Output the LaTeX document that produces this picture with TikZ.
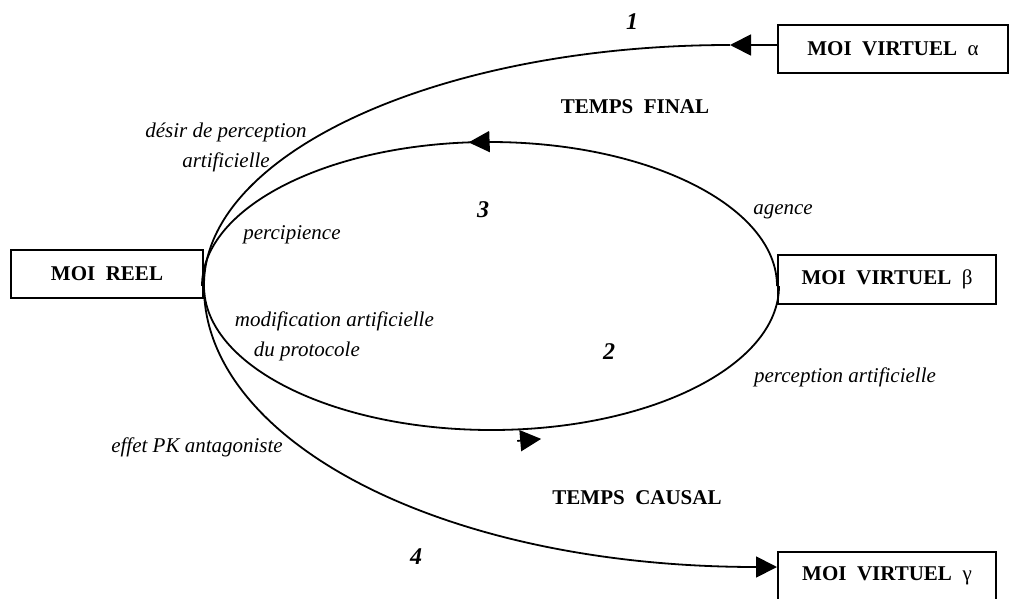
\documentclass[tikz,border=0pt]{standalone}
\usepackage{fontspec}
\setmainfont{Liberation Serif}
\usetikzlibrary{arrows.meta,decorations.markings}

\begin{document}
\begin{tikzpicture}[x=0.5pt,y=-0.5pt,line width=0.9pt,
  box/.style={rectangle,draw,line width=1pt,inner sep=0pt,font=\fontsize{10.5}{12}\selectfont\bfseries},
  lbl/.style={inner sep=0pt,font=\fontsize{10.5}{15}\selectfont\itshape},
  num/.style={inner sep=0pt,font=\fontsize{12}{14}\selectfont\bfseries\itshape},
  titre/.style={inner sep=0pt,font=\fontsize{10.5}{12}\selectfont\bfseries},
  tip/.style={-{Triangle[length=10.5pt,width=10.5pt]}},
  midtip/.style={postaction={decorate},decoration={markings,
    mark=at position #1 with {\arrow{Triangle[length=10.5pt,width=10.5pt]}}}}]
\useasboundingbox (0,0) rectangle (1011,599);

\node[box,minimum width=96pt,minimum height=24pt] (reel) at (107,274) {MOI\ \ REEL};
\node[box,minimum width=115pt,minimum height=24pt] (alpha) at (893,49) {MOI\ \ VIRTUEL\ \ {\mdseries α}};
\node[box,minimum width=109pt,minimum height=24.5pt] (beta) at (887,279.5) {MOI\ \ VIRTUEL\ \ {\mdseries β}};
\node[box,minimum width=109pt,minimum height=24pt] (gamma) at (887,576) {MOI\ \ VIRTUEL\ \ {\mdseries γ}};

\coordinate (o) at ([yshift=-6pt]reel.east);
\coordinate (e) at ([yshift=-3.25pt]beta.west);
\coordinate (a1) at ([xshift=-23.5pt,yshift=2pt]alpha.west);

\draw[tip] ([yshift=2pt]alpha.west) -- (a1);
\draw (a1) .. controls (440,45) and (203,153) .. (o);
\draw[midtip=0.53] (e) arc[start angle=0,end angle=180,x radius=143.75pt,y radius=72pt];
\draw[postaction={decorate},decoration={markings,
  mark=at position 0.57 with {\draw[tip] (-12pt,-5.5pt) -- (0pt,-5.5pt);}}]
  (o) arc[start angle=180,end angle=360,x radius=143.75pt,y radius=72pt];
\draw[tip] (o) .. controls (203,440) and (440,567) .. ([yshift=4.5pt]gamma.west);

\node[num] (n1) at (632,22) {1};
\node[titre] (tfinal) at (635,107) {TEMPS\ \ FINAL};
\node[lbl,align=center] (desir) at (226,147) {désir de perception\\artificielle};
\node[num] (n3) at (483,210) {3};
\node[lbl] (percip) at (292,235) {percipience};
\node[lbl] (agence) at (783,212) {agence};
\node[lbl,align=left,anchor=west] (modif) at (234,336) {modification artificielle\\\hspace*{9.5pt}du protocole};
\node[num] (n2) at (609,352) {2};
\node[lbl] (percart) at (845,377) {perception artificielle};
\node[lbl] (effet) at (197,447) {effet PK antagoniste};
\node[titre] (tcausal) at (637,498) {TEMPS\ \ CAUSAL};
\node[num] (n4) at (416,557) {4};
\end{tikzpicture}
\end{document}
